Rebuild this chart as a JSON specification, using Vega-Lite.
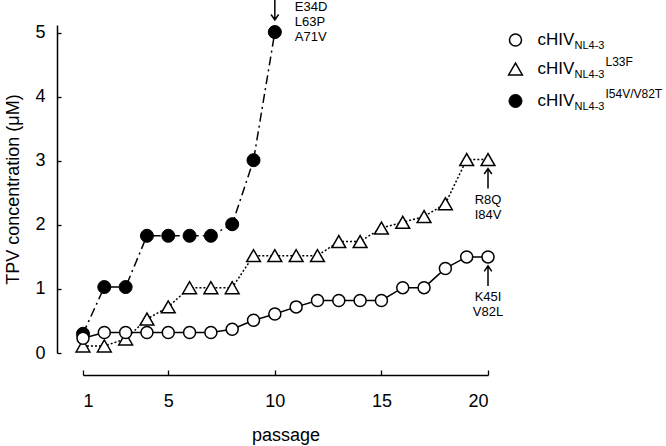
{
  "$schema": "https://vega.github.io/schema/vega-lite/v6.json",
  "width": 405,
  "height": 328,
  "autosize": {"type": "none"},
  "padding": {"left": 83, "top": 25, "right": 178, "bottom": 93},
  "background": "white",
  "config": {
    "view": {"stroke": null},
    "font": "Liberation Sans",
    "axis": {
      "grid": false,
      "domainColor": "black",
      "tickColor": "black",
      "labelColor": "black",
      "titleColor": "black",
      "labelFont": "Liberation Sans",
      "titleFont": "Liberation Sans",
      "labelFontSize": 18,
      "titleFontSize": 18,
      "titleFontWeight": "normal",
      "domainWidth": 1.5,
      "tickWidth": 1.3
    }
  },
  "datasets": {
    "main": [
      {"series": "NL4-3", "passage": 1, "conc": 0.23},
      {"series": "NL4-3", "passage": 2, "conc": 0.32},
      {"series": "NL4-3", "passage": 3, "conc": 0.32},
      {"series": "NL4-3", "passage": 4, "conc": 0.32},
      {"series": "NL4-3", "passage": 5, "conc": 0.32},
      {"series": "NL4-3", "passage": 6, "conc": 0.32},
      {"series": "NL4-3", "passage": 7, "conc": 0.32},
      {"series": "NL4-3", "passage": 8, "conc": 0.37},
      {"series": "NL4-3", "passage": 9, "conc": 0.51},
      {"series": "NL4-3", "passage": 10, "conc": 0.61},
      {"series": "NL4-3", "passage": 11, "conc": 0.72},
      {"series": "NL4-3", "passage": 12, "conc": 0.82},
      {"series": "NL4-3", "passage": 13, "conc": 0.82},
      {"series": "NL4-3", "passage": 14, "conc": 0.82},
      {"series": "NL4-3", "passage": 15, "conc": 0.82},
      {"series": "NL4-3", "passage": 16, "conc": 1.02},
      {"series": "NL4-3", "passage": 17, "conc": 1.02},
      {"series": "NL4-3", "passage": 18, "conc": 1.32},
      {"series": "NL4-3", "passage": 19, "conc": 1.5},
      {"series": "NL4-3", "passage": 20, "conc": 1.5},
      {"series": "L33F", "passage": 1, "conc": 0.11},
      {"series": "L33F", "passage": 2, "conc": 0.11},
      {"series": "L33F", "passage": 3, "conc": 0.22},
      {"series": "L33F", "passage": 4, "conc": 0.53},
      {"series": "L33F", "passage": 5, "conc": 0.72},
      {"series": "L33F", "passage": 6, "conc": 1.02},
      {"series": "L33F", "passage": 7, "conc": 1.02},
      {"series": "L33F", "passage": 8, "conc": 1.02},
      {"series": "L33F", "passage": 9, "conc": 1.52},
      {"series": "L33F", "passage": 10, "conc": 1.52},
      {"series": "L33F", "passage": 11, "conc": 1.52},
      {"series": "L33F", "passage": 12, "conc": 1.52},
      {"series": "L33F", "passage": 13, "conc": 1.74},
      {"series": "L33F", "passage": 14, "conc": 1.74},
      {"series": "L33F", "passage": 15, "conc": 1.95},
      {"series": "L33F", "passage": 16, "conc": 2.04},
      {"series": "L33F", "passage": 17, "conc": 2.13},
      {"series": "L33F", "passage": 18, "conc": 2.33},
      {"series": "L33F", "passage": 19, "conc": 3.02},
      {"series": "L33F", "passage": 20, "conc": 3.02},
      {"series": "I54V/V82T", "passage": 1, "conc": 0.3},
      {"series": "I54V/V82T", "passage": 2, "conc": 1.03},
      {"series": "I54V/V82T", "passage": 3, "conc": 1.03},
      {"series": "I54V/V82T", "passage": 4, "conc": 1.83},
      {"series": "I54V/V82T", "passage": 5, "conc": 1.83},
      {"series": "I54V/V82T", "passage": 6, "conc": 1.83},
      {"series": "I54V/V82T", "passage": 7, "conc": 1.83},
      {"series": "I54V/V82T", "passage": 8, "conc": 2.01},
      {"series": "I54V/V82T", "passage": 9, "conc": 3.01},
      {"series": "I54V/V82T", "passage": 10, "conc": 5.01}
    ],
    "notes": [
      {"id": "a", "passage": 10, "conc": 5.01, "label": ["E34D", "L63P", "A71V"]},
      {"id": "b", "passage": 20, "conc": 3.02, "label": ["R8Q", "I84V"]},
      {"id": "c", "passage": 20, "conc": 1.5, "label": ["K45I", "V82L"]}
    ],
    "legend": [
      {"key": "NL4-3", "passage": 21.29, "conc": 4.886, "main": "cHIV", "sub": "NL4-3", "sup": ""},
      {"key": "L33F", "passage": 21.29, "conc": 4.433, "main": "cHIV", "sub": "NL4-3", "sup": "L33F"},
      {"key": "I54V/V82T", "passage": 21.29, "conc": 3.934, "main": "cHIV", "sub": "NL4-3", "sup": "I54V/V82T"}
    ]
  },
  "data": {"name": "main"},
  "encoding": {
    "x": {
      "field": "passage",
      "type": "quantitative",
      "scale": {"domain": [1, 20], "nice": false, "zero": false},
      "axis": {
        "values": [1, 5, 10, 15, 20],
        "offset": 22,
        "tickSize": -5,
        "labelPadding": 22,
        "title": "passage",
        "titlePadding": 16
      }
    },
    "y": {
      "field": "conc",
      "type": "quantitative",
      "scale": {"domain": [0, 5.12], "nice": false},
      "axis": {
        "values": [0, 1, 2, 3, 4, 5],
        "offset": 26,
        "tickSize": -4,
        "labelPadding": 16,
        "title": "TPV concentration (μM)",
        "titlePadding": 12
      }
    }
  },
  "layer": [
    {
      "transform": [{"filter": "datum.series === 'L33F'"}],
      "mark": {"type": "line", "color": "black", "strokeWidth": 1.5, "strokeDash": [2, 2]}
    },
    {
      "transform": [{"filter": "datum.series === 'L33F'"}],
      "mark": {"type": "point", "shape": "triangle-up", "size": 190, "filled": true, "fill": "white", "stroke": "black", "strokeWidth": 1.5, "opacity": 1}
    },
    {
      "transform": [{"filter": "datum.series === 'I54V/V82T'"}],
      "mark": {"type": "line", "color": "black", "strokeWidth": 1.5, "strokeDash": [9, 4, 2, 4]}
    },
    {
      "transform": [{"filter": "datum.series === 'I54V/V82T'"}],
      "mark": {"type": "point", "shape": "circle", "size": 170, "filled": true, "fill": "black", "stroke": "black", "strokeWidth": 1, "opacity": 1}
    },
    {
      "transform": [{"filter": "datum.series === 'NL4-3'"}],
      "mark": {"type": "line", "color": "black", "strokeWidth": 1.5}
    },
    {
      "transform": [{"filter": "datum.series === 'NL4-3'"}],
      "mark": {"type": "point", "shape": "circle", "size": 144, "filled": true, "fill": "white", "stroke": "black", "strokeWidth": 1.5, "opacity": 1}
    },
    {
      "data": {"name": "notes"},
      "transform": [{"filter": "datum.id === 'a'"}],
      "mark": {"type": "point", "shape": "M0,-1L0,1M-0.38,0.45L0,1L0.38,0.45", "size": 400, "filled": false, "stroke": "black", "strokeWidth": 1.5, "opacity": 1, "yOffset": -22}
    },
    {
      "data": {"name": "notes"},
      "transform": [{"filter": "datum.id === 'a'"}],
      "mark": {"type": "text", "fontSize": 13, "lineHeight": 15, "align": "left", "baseline": "middle", "dx": 20, "dy": -25, "color": "black"},
      "encoding": {"text": {"field": "label"}}
    },
    {
      "data": {"name": "notes"},
      "transform": [{"filter": "datum.id !== 'a'"}],
      "mark": {"type": "point", "shape": "M0,1L0,-1M-0.38,-0.45L0,-1L0.38,-0.45", "size": 400, "filled": false, "stroke": "black", "strokeWidth": 1.5, "opacity": 1, "yOffset": 19}
    },
    {
      "data": {"name": "notes"},
      "transform": [{"filter": "datum.id !== 'a'"}],
      "mark": {"type": "text", "fontSize": 13, "lineHeight": 15, "align": "center", "baseline": "middle", "dy": 40, "color": "black"},
      "encoding": {"text": {"field": "label"}}
    },
    {
      "data": {"name": "legend"},
      "transform": [{"filter": "datum.key === 'NL4-3'"}],
      "mark": {"type": "point", "shape": "circle", "size": 144, "filled": true, "fill": "white", "stroke": "black", "strokeWidth": 1.5, "opacity": 1}
    },
    {
      "data": {"name": "legend"},
      "transform": [{"filter": "datum.key === 'L33F'"}],
      "mark": {"type": "point", "shape": "triangle-up", "size": 190, "filled": true, "fill": "white", "stroke": "black", "strokeWidth": 1.5, "opacity": 1}
    },
    {
      "data": {"name": "legend"},
      "transform": [{"filter": "datum.key === 'I54V/V82T'"}],
      "mark": {"type": "point", "shape": "circle", "size": 170, "filled": true, "fill": "black", "stroke": "black", "strokeWidth": 1, "opacity": 1}
    },
    {
      "data": {"name": "legend"},
      "mark": {"type": "text", "fontSize": 17, "align": "left", "baseline": "middle", "dx": 22, "color": "black"},
      "encoding": {"text": {"field": "main"}}
    },
    {
      "data": {"name": "legend"},
      "mark": {"type": "text", "fontSize": 11, "align": "left", "baseline": "middle", "dx": 59, "dy": 6, "color": "black"},
      "encoding": {"text": {"field": "sub"}}
    },
    {
      "data": {"name": "legend"},
      "mark": {"type": "text", "fontSize": 12, "align": "left", "baseline": "middle", "dx": 90, "dy": -7, "color": "black"},
      "encoding": {"text": {"field": "sup"}}
    }
  ]
}
